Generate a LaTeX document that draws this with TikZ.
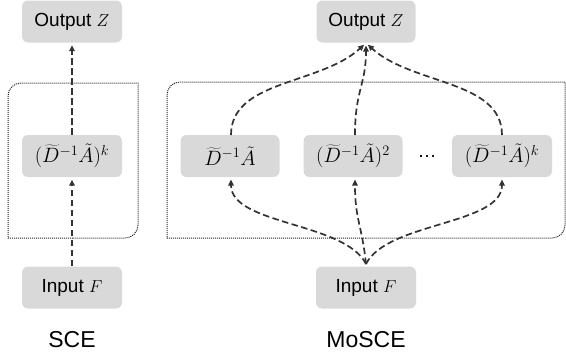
\documentclass[tikz,border=0pt]{standalone}
\usepackage{fontspec}
\setmainfont{Liberation Sans}
\usetikzlibrary{arrows.meta}
\definecolor{boxgray}{HTML}{D9D9D9}
\definecolor{linegray}{HTML}{333333}
\begin{document}
\begin{tikzpicture}[x=1pt,y=-1pt,
  gbox/.style={fill=boxgray,rounded corners=6pt,minimum width=99pt,minimum height=42pt,inner sep=0pt,font=\fontsize{19}{22}\selectfont},
  mbox/.style={gbox,font=\fontsize{22}{25}\selectfont},
  flow/.style={linegray,line width=1.7pt,dash pattern=on 6.5pt off 3.5pt,-{Triangle[length=6pt,width=5.5pt]},shorten >=2.5pt},
  frame/.style={black!85,line width=1pt,densely dotted},
  caption/.style={font=\fontsize{23}{26}\selectfont}]
\useasboundingbox (0,0) rectangle (566,356);
% left panel
\draw[frame] (73,238) -- (8,238) -- (8,160) [rounded corners=13pt] -- (8,83) -- (73,83) [sharp corners] -- (138,83) -- (138,160) [rounded corners=13pt] -- (138,238) -- (73,238);
\node[gbox,minimum width=100pt] (out1) at (72,21.5) {Output $Z$};
\node[mbox,minimum width=100pt] (mid1) at (72,156) {$(\widetilde{D}^{-1}\tilde{A})^{k}$};
\node[gbox,minimum width=100pt] (in1) at (72,287.5) {Input $F$};
\node[caption] (sce) at (72,340) {SCE};
\draw[flow] (mid1.north) -- (out1.south);
\draw[flow] (in1.north) -- (mid1.south);
% right panel
\draw[frame] (366,238) -- (167,238) -- (167,160) [rounded corners=13pt] -- (167,82) -- (366,82) [sharp corners] -- (565,82) -- (565,160) [rounded corners=13pt] -- (565,238) -- (366,238);
\node[gbox] (out2) at (366,21.5) {Output $Z$};
\node[mbox] (b1) at (230,156) {$\widetilde{D}^{-1}\tilde{A}$};
\node[mbox] (b2) at (353,156) {$(\widetilde{D}^{-1}\tilde{A})^{2}$};
\node[mbox,minimum width=100pt] (b3) at (502,156) {$(\widetilde{D}^{-1}\tilde{A})^{k}$};
\node[font=\fontsize{19}{22}\selectfont] (dots) at (427,156) {…};
\node[gbox,minimum width=100pt] (in2) at (366,287.5) {Input $F$};
\node[caption] (mosce) at (366,340) {MoSCE};
\coordinate (tip) at (366,43);
\coordinate (root) at (366,264);
% lower arrows
\draw[flow] (root) .. controls (345,222) and (231,225) .. (231,177);
\draw[flow] (root) .. controls (362,225) and (355,220) .. (355,177);
\draw[flow] (root) .. controls (387,222) and (502,225) .. (502,177);
% upper arrows
\draw[flow] (231,135) .. controls (231,80) and (320,85) .. (tip);
\draw[flow] (355,135) .. controls (355,90) and (366,85) .. (tip);
\draw[flow] (502,135) .. controls (502,80) and (412,85) .. (tip);
\end{tikzpicture}
\end{document}
